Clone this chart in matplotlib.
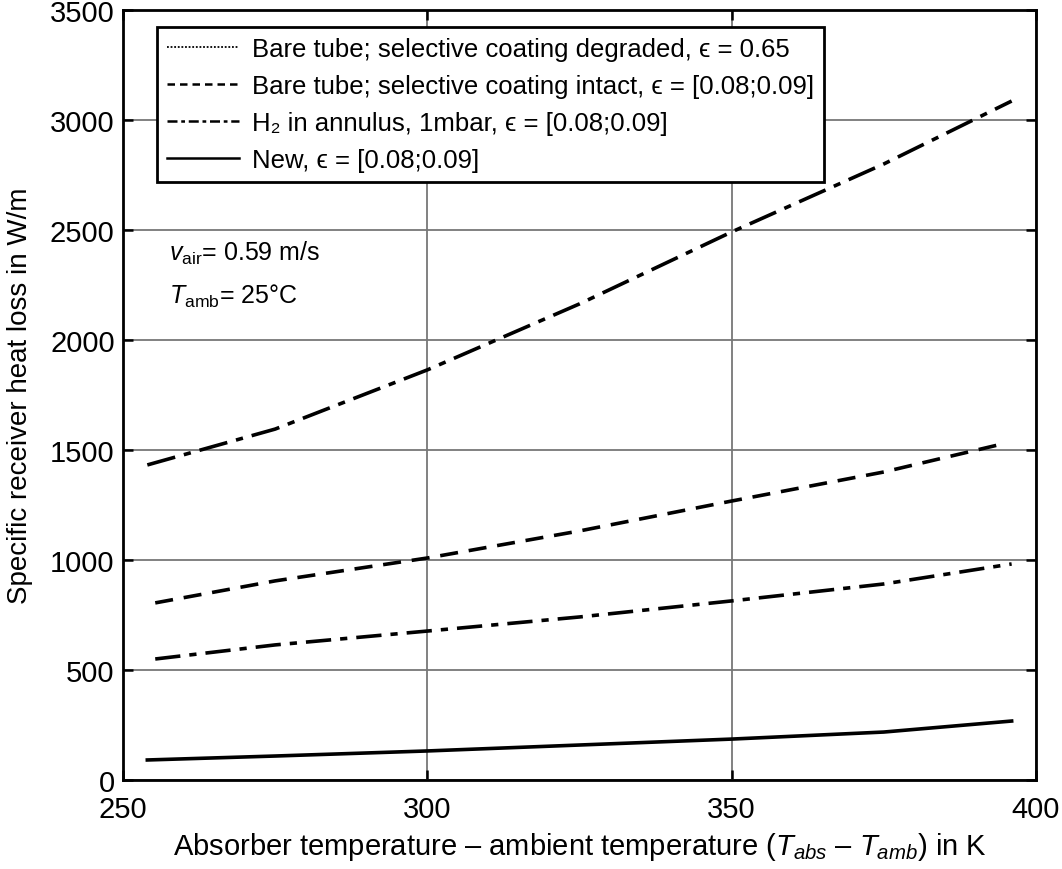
import matplotlib
matplotlib.use('Agg')
import matplotlib.pyplot as plt
from matplotlib.lines import Line2D

plt.rcParams['font.family'] = ['Liberation Sans', 'DejaVu Sans']
plt.rcParams['mathtext.fontset'] = 'custom'
plt.rcParams['mathtext.rm'] = 'Liberation Sans'
plt.rcParams['mathtext.it'] = 'Liberation Sans:italic'

# data
t_top = [254, 275, 300, 325, 350, 375, 396]
q_top = [1432, 1595, 1864, 2164, 2491, 2800, 3086]

t_dash = [255.3, 275, 300, 325, 350, 375, 393.8]
q_dash = [805, 905, 1009, 1132, 1268, 1400, 1523]

t_dd = [255.3, 275, 300, 325, 350, 375, 396]
q_dd = [550, 614, 677, 741, 814, 891, 982]

t_new = [254, 275, 300, 325, 350, 375, 396]
q_new = [91, 109, 132, 159, 186, 218, 268]

labels = ['Bare tube; selective coating degraded, \u03f5 = 0.65',
          'Bare tube; selective coating intact, \u03f5 = [0.08;0.09]',
          'H\u2082 in annulus, 1mbar, \u03f5 = [0.08;0.09]',
          'New, \u03f5 = [0.08;0.09]']

fig = plt.figure(figsize=(10.62, 8.7), dpi=100)
ax = fig.add_axes([0.1158, 0.1023, 0.8597, 0.8851])

ax.plot(t_top, q_top, color='black', lw=2.6, dashes=(8, 2.5, 2, 2.5))
ax.plot(t_dash, q_dash, color='black', lw=2.6, dashes=(5, 3))
ax.plot(t_dd, q_dd, color='black', lw=2.6, dashes=(7, 2.5, 2, 2.5))
ax.plot(t_new, q_new, color='black', lw=2.6)

ax.set_xlim(250, 400)
ax.set_ylim(0, 3500)
ax.set_xticks([250, 300, 350, 400])
ax.set_yticks(range(0, 3501, 500))
ax.grid(True, color='#777777', lw=1.3)
ax.tick_params(direction='in', length=7, width=1.8, top=True, right=True, labelsize=21)
ax.tick_params(axis='x', pad=11)
ax.tick_params(axis='y', pad=6)
for s in ax.spines.values():
    s.set_linewidth(2)

ax.set_xlabel('Absorber temperature \u2013 ambient temperature ($T_{abs}$ \u2013 $T_{amb}$) in K', fontsize=21, labelpad=5)
ax.set_ylabel('Specific receiver heat loss in W/m', fontsize=20, labelpad=12)

ax.text(0.05, 0.675, '$v_{\\rm air}$= 0.59 m/s', transform=ax.transAxes, fontsize=18)
ax.text(0.05, 0.62, '$T_{\\rm amb}$= 25\u00b0C', transform=ax.transAxes, fontsize=18)

handles = [Line2D([], [], color='black', lw=1.3, ls=(0, (1, 1))),
           Line2D([], [], color='black', lw=1.8, dashes=(3, 2)),
           Line2D([], [], color='black', lw=1.8, dashes=(4, 1.5, 1.5, 1.5)),
           Line2D([], [], color='black', lw=1.8)]
leg = ax.legend(handles, labels, loc='upper left', bbox_to_anchor=(0.037, 0.978), fontsize=18.5,
                frameon=True, fancybox=False, edgecolor='black', framealpha=1,
                handlelength=2.8, handletextpad=0.5, labelspacing=0.5, borderpad=0.4,
                borderaxespad=0)
leg.get_frame().set_linewidth(2)

fig.savefig('out.png', dpi=100)
